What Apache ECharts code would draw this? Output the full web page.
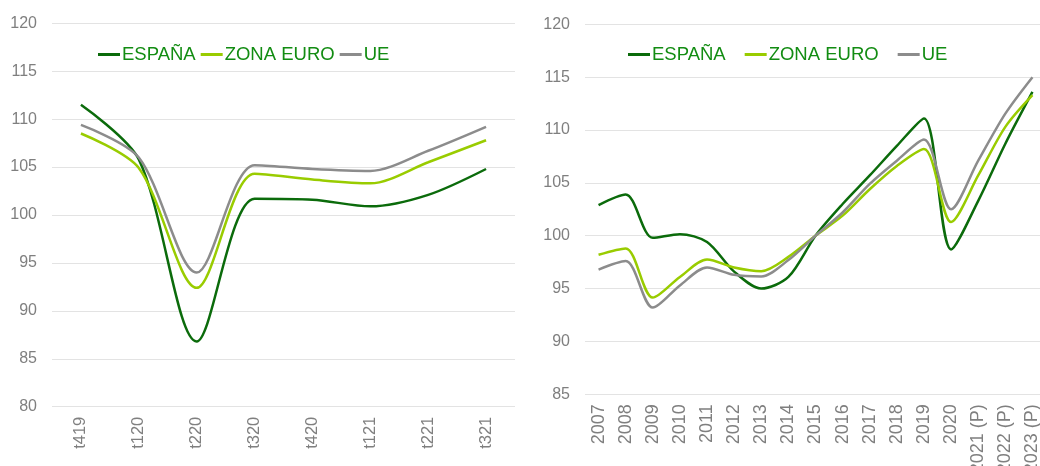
<!DOCTYPE html>
<html>
<head>
<meta charset="utf-8">
<script src="https://cdn.jsdelivr.net/npm/echarts@6/dist/echarts.min.js"></script>
<style>
html,body{margin:0;padding:0;background:#fff;}
#chart{width:1040px;height:466px;}
</style>
</head>
<body>
<div id="chart"></div>
<script>
// ---- Data ----
const quarters = ['t419','t120','t220','t320','t420','t121','t221','t321'];
const espanaQ = [111.5, 105.8, 86.8, 101.7, 101.6, 100.9, 102.1, 104.8];
const zonaQ   = [108.5, 104.9, 92.4, 104.3, 103.7, 103.3, 105.5, 107.8];
const ueQ     = [109.4, 106.0, 94.0, 105.2, 104.8, 104.6, 106.7, 109.2];

const years = ['2007','2008','2009','2010','2011','2012','2013','2014','2015','2016','2017','2018','2019','2020','2021 (P)','2022 (P)','2023 (P)'];
const espanaY = [102.9, 103.9, 99.8, 100.15, 99.4, 96.6, 95.0, 96.1, 100.0, 103.0, 105.7, 108.5, 111.1, 98.7, 103.3, 108.7, 113.6];
const zonaY   = [98.2, 98.8, 94.15, 96.1, 97.75, 97.0, 96.65, 98.0, 100.0, 101.9, 104.4, 106.6, 108.2, 101.3, 105.7, 110.3, 113.3];
const ueY     = [96.8, 97.6, 93.2, 95.3, 97.0, 96.3, 96.15, 97.7, 100.0, 102.2, 104.9, 107.1, 109.1, 102.5, 107.1, 111.55, 115.0];

const seriesNames = ['ESPAÑA', 'ZONA EURO', 'UE'];
const colors = ['#0b6b0b', '#99cc00', '#8c8c8c'];

// ---- Chart ----
const FONT = 'Liberation Sans, Arial, sans-serif';
const chart = echarts.init(document.getElementById('chart'), null, {renderer: 'canvas'});

function yAxis(gridIndex, min, max) {
  return {
    type: 'value', gridIndex, min, max, interval: 5,
    axisLine: {show: false}, axisTick: {show: false},
    axisLabel: {color: '#7f7f7f', fontSize: 16, fontFamily: FONT, margin: 15},
    splitLine: {lineStyle: {color: '#e3e3e3', width: 1}}
  };
}
function xAxis(gridIndex, data, fs) {
  return {
    type: 'category', gridIndex, data, boundaryGap: true,
    axisLine: {show: false}, axisTick: {show: false},
    axisLabel: {color: '#7f7f7f', fontSize: fs, fontFamily: FONT, rotate: 90, margin: 10, interval: 0}
  };
}
function line(name, data, color, idx) {
  return {
    type: 'line', name, data, xAxisIndex: idx, yAxisIndex: idx,
    smooth: 0.3, symbol: 'none', showSymbol: false,
    lineStyle: {color, width: 2.5}, itemStyle: {color}
  };
}
function legend(left, gap) {
  return {
    left, top: 40, orient: 'horizontal', itemGap: gap,
    icon: 'rect', itemWidth: 22, itemHeight: 3, selectedMode: false,
    textStyle: {color: '#128c12', fontSize: 18.5, fontFamily: FONT, padding: [0, 0, 0, -3]},
    data: seriesNames
  };
}

chart.setOption({
  animation: false,
  backgroundColor: '#ffffff',
  color: colors,
  legend: [legend(93, 5), legend(623, 19)],
  grid: [
    {left: 52, top: 23.3, width: 463, height: 383.4, containLabel: false, outerBoundsMode: 'none'},
    {left: 585, top: 24.3, width: 461, height: 370, containLabel: false, outerBoundsMode: 'none'}
  ],
  xAxis: [xAxis(0, quarters, 16.5), xAxis(1, years, 18)],
  yAxis: [yAxis(0, 80, 120), yAxis(1, 85, 120)],
  series: [
    line(seriesNames[0], espanaQ, colors[0], 0),
    line(seriesNames[1], zonaQ, colors[1], 0),
    line(seriesNames[2], ueQ, colors[2], 0),
    line(seriesNames[0], espanaY, colors[0], 1),
    line(seriesNames[1], zonaY, colors[1], 1),
    line(seriesNames[2], ueY, colors[2], 1)
  ]
});
</script>
</body>
</html>
